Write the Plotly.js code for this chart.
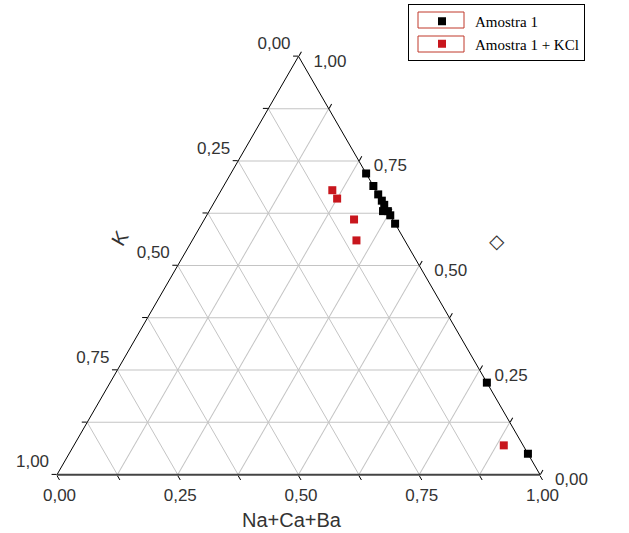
<!DOCTYPE html>
<html>
<head>
<meta charset="utf-8">
<script src="https://cdn.plot.ly/plotly-3.0.1.min.js"></script>
<style>html,body{margin:0;padding:0;background:#fff;}#chart{width:629px;height:533px;}</style>
</head>
<body>
<div id="chart"></div>
<script>
// Series: top vertex component (unlabelled, right-hand scale), K (left scale), Na+Ca+Ba (bottom scale)
const seriesNames = ["Amostra 1", "Amostra 1 + KCl"];
const amostra1Top = [0.72, 0.69, 0.67, 0.655, 0.645, 0.63, 0.63, 0.62, 0.60, 0.22, 0.05];
const amostra1K   = [0.00, 0.00, 0.00, 0.000, 0.000, 0.01, 0.00, 0.00, 0.00, 0.00, 0.00];
const amostra1Na  = [0.28, 0.31, 0.33, 0.345, 0.355, 0.36, 0.37, 0.38, 0.40, 0.78, 0.95];
const kclTop = [0.68, 0.66, 0.61, 0.56, 0.07];
const kclK   = [0.09, 0.09, 0.08, 0.10, 0.04];
const kclNa  = [0.23, 0.25, 0.31, 0.34, 0.89];
// Grid / tick positions and their labels
const gridVals = [0, 0.125, 0.25, 0.375, 0.5, 0.625, 0.75, 0.875, 1];
const labelVals = [0, 0.25, 0.5, 0.75, 1];
const axisTitles = {k: "K", na: "Na+Ca+Ba", top: "\u25C7"};

function fmt(v){ return v.toFixed(2).replace('.', ','); }
// Reference scales run opposite to Plotly's built-in direction on every side
const labelFor = v => labelVals.includes(v) ? fmt(1 - v) : '';
const leftText   = gridVals.map(v => labelFor(v) ? labelFor(v) + '<br> ' : '');
const bottomText = gridVals.map(v => labelFor(v));
const rightText  = gridVals.map(v => labelFor(v) ? ' <br>\u00a0\u00a0' + labelFor(v) : '');

const traces = [
  {type:'scatterternary', mode:'markers', name:seriesNames[0],
   a:amostra1Top, b:amostra1K, c:amostra1Na,
   marker:{symbol:'square', size:8, color:'#000000'}, cliponaxis:false},
  {type:'scatterternary', mode:'markers', name:seriesNames[1],
   a:kclTop, b:kclK, c:kclNa,
   marker:{symbol:'square', size:8, color:'#c8161d'}, cliponaxis:false}
];

const tickFont = {family:'"Liberation Sans", Arial, sans-serif', size:17, color:'#333'};
function axis(text, lineColor, lineWidth){
  return {
    tickmode:'array', tickvals:gridVals, ticktext:text,
    ticks:'outside', ticklen:5, tickcolor:'#000', tickwidth:1,
    showline:true, linecolor:lineColor, linewidth:lineWidth,
    showgrid:true, gridcolor:'#c4c4c4', gridwidth:1,
    tickfont:tickFont, title:{text:''}, min:0
  };
}

const layout = {
  width:629, height:533,
  margin:{l:0, r:0, t:0, b:0},
  paper_bgcolor:'#fff',
  showlegend:true,
  legend:{x:408/629, y:1-4/533, xanchor:'left', yanchor:'top',
          bordercolor:'#000', borderwidth:1, bgcolor:'rgba(0,0,0,0)',
          itemwidth:56, entrywidthmode:'pixels', entrywidth:216,
          font:{family:'"Liberation Serif", "Times New Roman", serif', size:15, color:'#000'},
          tracegroupgap:0},
  ternary:{
    sum:1,
    domain:{x:[57/629, 540/629], y:[58/533, 477/533]},
    bgcolor:'#fff',
    aaxis:axis(leftText, '#000', 1),
    baxis:axis(bottomText, '#444', 2),
    caxis:axis(rightText, '#000', 1)
  },
  shapes:[
    {type:'rect', xref:'paper', yref:'paper', x0:418/629, x1:464/629, y0:1-28/533, y1:1-12/533,
     line:{color:'#c0392b', width:1}, fillcolor:'rgba(0,0,0,0)'},
    {type:'rect', xref:'paper', yref:'paper', x0:418/629, x1:464/629, y0:1-52/533, y1:1-36/533,
     line:{color:'#c0392b', width:1}, fillcolor:'rgba(0,0,0,0)'}
  ],
  annotations:[
    {text:axisTitles.na, xref:'paper', yref:'paper', x:292/629, y:1-520/533, xanchor:'center', yanchor:'middle', showarrow:false,
     font:{family:'"Liberation Sans", Arial, sans-serif', size:20, color:'#333'}},
    {text:axisTitles.k, xref:'paper', yref:'paper', x:120/629, y:1-238/533, xanchor:'center', yanchor:'middle', showarrow:false, textangle:-60,
     font:{family:'"Liberation Sans", Arial, sans-serif', size:20, color:'#333'}},
    {text:axisTitles.top, xref:'paper', yref:'paper', x:497/629, y:1-241/533, xanchor:'center', yanchor:'middle', showarrow:false,
     font:{family:'"DejaVu Sans", sans-serif', size:20, color:'#333'}}
  ]
};

Plotly.newPlot('chart', traces, layout, {displayModeBar:false, staticPlot:true});
</script>
</body>
</html>
